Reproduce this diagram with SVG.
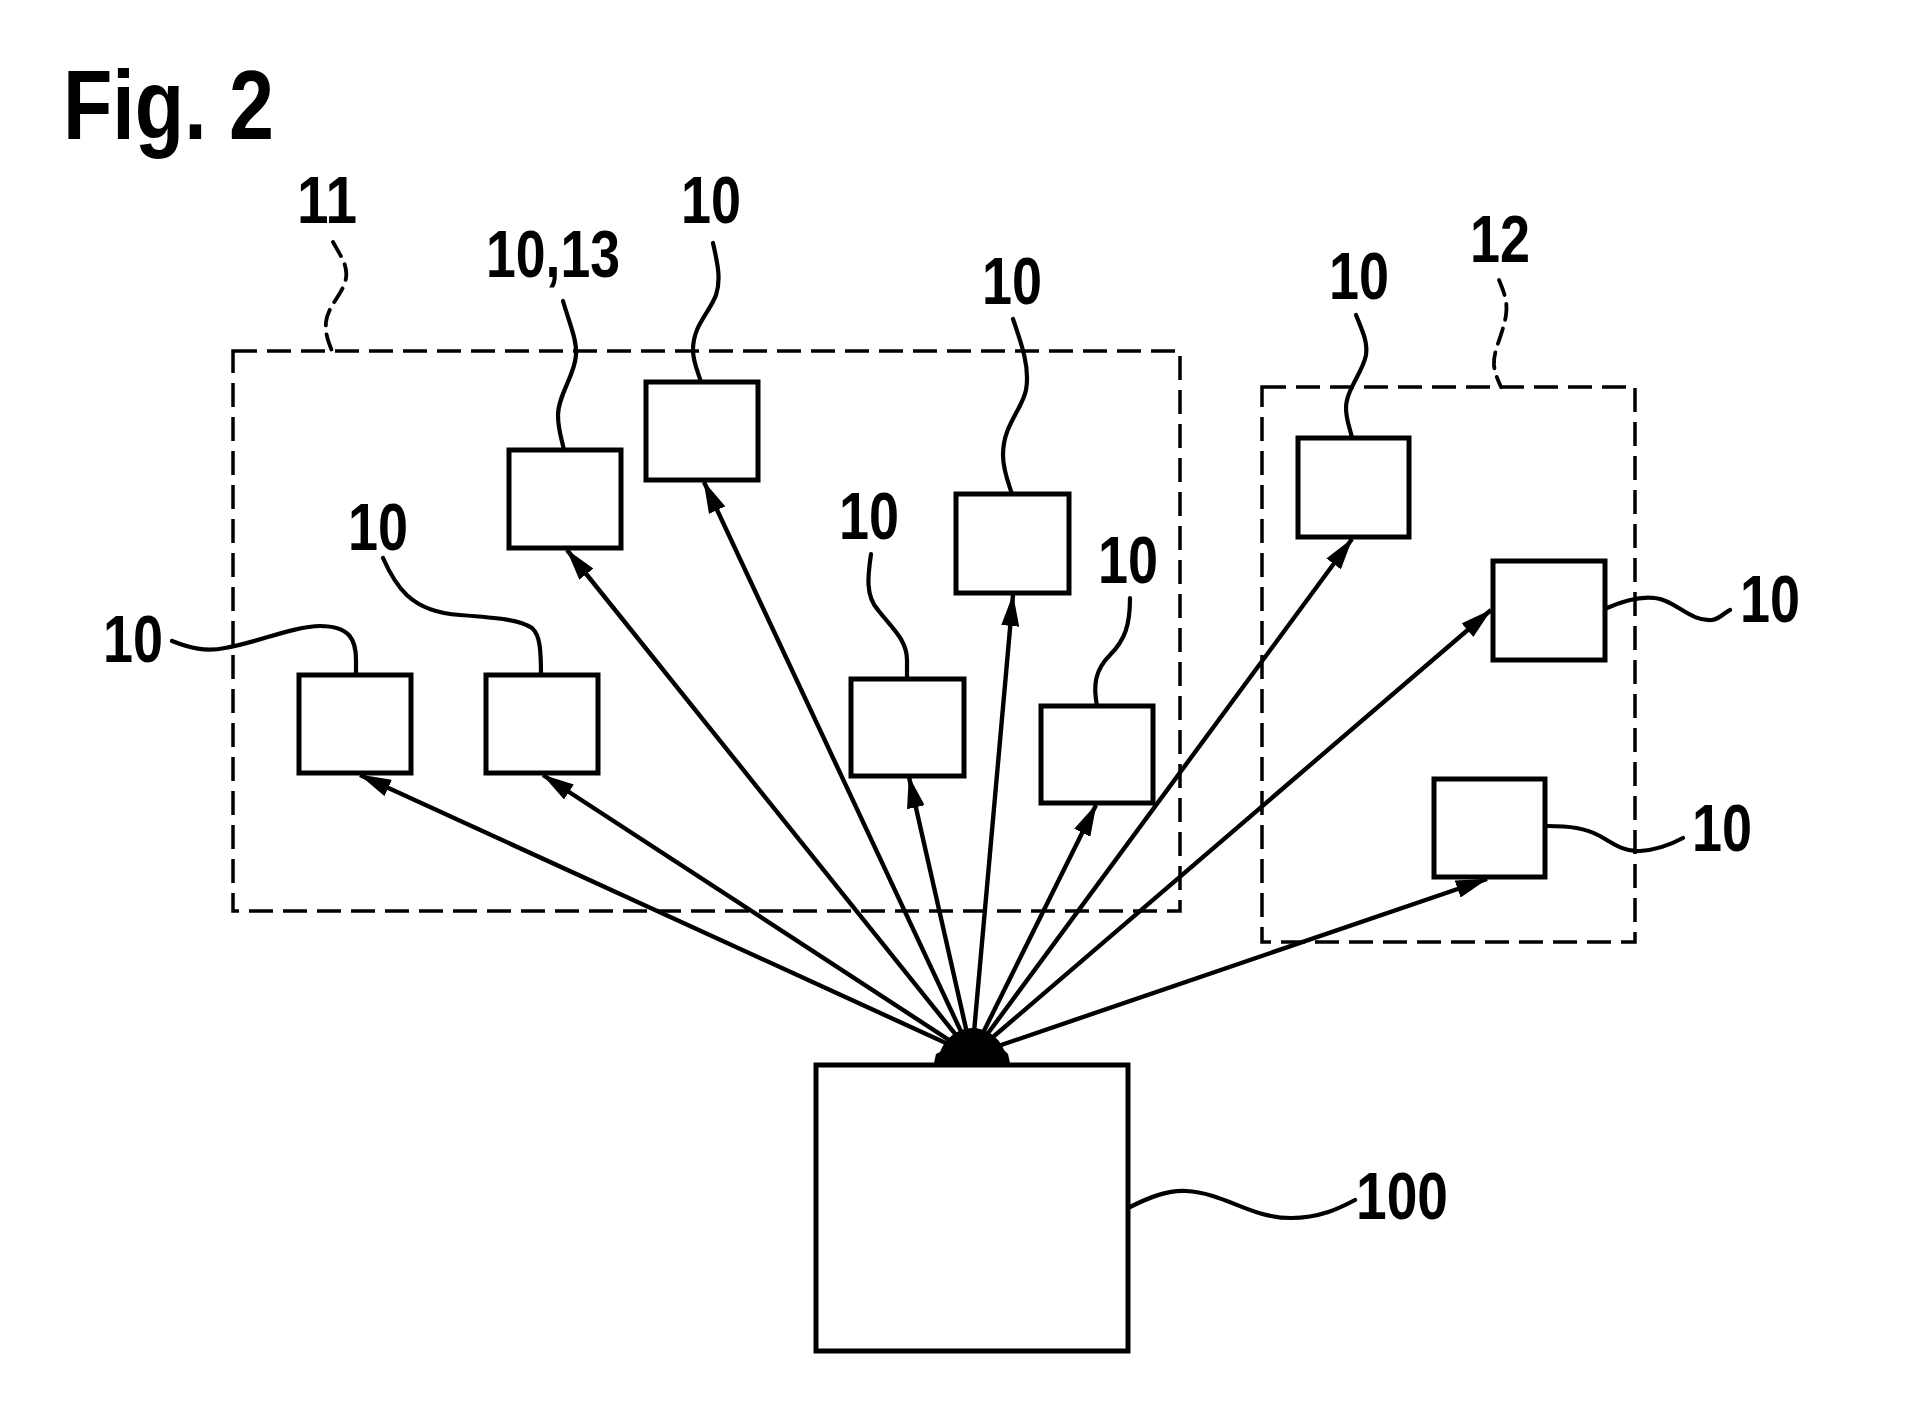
<svg xmlns="http://www.w3.org/2000/svg" width="1913" height="1413" viewBox="0 0 1913 1413">
<style>
.bg{fill:#fff}
.box{fill:#fff;stroke:#000;stroke-width:5}
.grp{fill:none;stroke:#000;stroke-width:3.5;stroke-dasharray:24 10}
.lead{fill:none;stroke:#000;stroke-width:4.2;stroke-linecap:round}
.dlead{fill:none;stroke:#000;stroke-width:3.8;stroke-dasharray:16 9;stroke-linecap:round}
.con{fill:none;stroke:#000;stroke-width:4.4;marker-end:url(#ah)}
.lbl{font-family:"Liberation Sans",Arial,sans-serif;font-weight:bold;font-size:66px;fill:#000}
.fig{font-family:"Liberation Sans",Arial,sans-serif;font-weight:bold;font-size:99px;fill:#000}
</style>
<defs>
<marker id="ah" markerUnits="userSpaceOnUse" markerWidth="32" markerHeight="18" viewBox="0 0 32 18" refX="31" refY="9" orient="auto">
<path d="M0,0 L32,9 L0,18 Z" fill="#000"/>
</marker>
</defs>
<rect class="bg" x="0" y="0" width="1913" height="1413"/>
<text class="fig" x="63" y="139" textLength="211" lengthAdjust="spacingAndGlyphs">Fig. 2</text>

<g id="group11">
<rect class="grp" x="233" y="351" width="947" height="560"/>
<path class="dlead" d="M333,242 C340,255 348,265 346,278 C344,293 328,305 326,322 C325,335 329,343 332,351"/>
<text class="lbl" x="297" y="223" textLength="60" lengthAdjust="spacingAndGlyphs">11</text>
</g>
<g id="group12">
<rect class="grp" x="1262" y="387" width="373" height="555"/>
<path class="dlead" d="M1499,280 C1504,292 1508,302 1506,315 C1503,335 1493,350 1494,365 C1495,375 1499,382 1501,387"/>
<text class="lbl" x="1470" y="262" textLength="60" lengthAdjust="spacingAndGlyphs">12</text>
</g>

<g id="connectors">
<line class="con" x1="972" y1="1055" x2="360" y2="775"/>
<line class="con" x1="972" y1="1055" x2="543" y2="775"/>
<line class="con" x1="972" y1="1055" x2="567" y2="550"/>
<line class="con" x1="972" y1="1055" x2="704" y2="482"/>
<line class="con" x1="972" y1="1055" x2="909" y2="777"/>
<line class="con" x1="972" y1="1055" x2="1013" y2="595"/>
<line class="con" x1="972" y1="1055" x2="1096" y2="805"/>
<line class="con" x1="972" y1="1055" x2="1352" y2="539"/>
<line class="con" x1="972" y1="1055" x2="1491" y2="610"/>
<line class="con" x1="972" y1="1055" x2="1487" y2="879"/>
<path d="M934,1063 L936,1054 L940,1052 C946,1036 960,1028 972,1028 C985,1028 999,1036 1004,1050 L1008,1054 L1010,1063 Z" fill="#000"/>
</g>

<g id="nodeA">
<rect class="box" x="299" y="675" width="112" height="98"/>
<path class="lead" d="M172,641 C190,648 205,652 225,648 C255,643 295,626 320,626 C350,626 356,640 356,660 L356,675"/>
<text class="lbl" x="103" y="662" textLength="60" lengthAdjust="spacingAndGlyphs">10</text>
</g>
<g id="nodeB">
<rect class="box" x="486" y="675" width="112" height="98"/>
<path class="lead" d="M383,558 C395,585 410,612 460,615 C500,618 520,620 532,628 C540,635 541,650 541,675"/>
<text class="lbl" x="348" y="550" textLength="60" lengthAdjust="spacingAndGlyphs">10</text>
</g>
<g id="nodeC">
<rect class="box" x="509" y="450" width="112" height="98"/>
<path class="lead" d="M563,301 C570,325 577,340 576,355 C575,375 558,395 558,415 C558,430 562,440 564,450"/>
<text class="lbl" x="486" y="277" textLength="134" lengthAdjust="spacingAndGlyphs">10,13</text>
</g>
<g id="nodeD">
<rect class="box" x="646" y="382" width="112" height="98"/>
<path class="lead" d="M713,243 C718,265 721,280 716,295 C710,312 693,325 693,350 C693,362 698,372 701,382"/>
<text class="lbl" x="681" y="223" textLength="60" lengthAdjust="spacingAndGlyphs">10</text>
</g>
<g id="nodeE">
<rect class="box" x="851" y="679" width="113" height="97"/>
<path class="lead" d="M871,554 C868,575 865,595 878,610 C892,628 907,640 907,660 L907,679"/>
<text class="lbl" x="839" y="539" textLength="60" lengthAdjust="spacingAndGlyphs">10</text>
</g>
<g id="nodeF">
<rect class="box" x="956" y="494" width="113" height="99"/>
<path class="lead" d="M1013,319 C1022,345 1030,368 1026,390 C1022,410 1003,425 1003,455 C1003,470 1008,482 1012,494"/>
<text class="lbl" x="982" y="304" textLength="60" lengthAdjust="spacingAndGlyphs">10</text>
</g>
<g id="nodeG">
<rect class="box" x="1041" y="706" width="112" height="97"/>
<path class="lead" d="M1130,598 C1130,625 1125,640 1110,655 C1095,670 1093,685 1097,706"/>
<text class="lbl" x="1098" y="583" textLength="60" lengthAdjust="spacingAndGlyphs">10</text>
</g>
<g id="nodeH">
<rect class="box" x="1298" y="438" width="111" height="99"/>
<path class="lead" d="M1356,315 C1362,330 1368,342 1366,355 C1363,372 1346,390 1346,408 C1346,420 1350,428 1352,438"/>
<text class="lbl" x="1329" y="299" textLength="60" lengthAdjust="spacingAndGlyphs">10</text>
</g>
<g id="nodeI">
<rect class="box" x="1493" y="561" width="112" height="99"/>
<path class="lead" d="M1607,608 C1625,600 1640,596 1655,598 C1675,600 1690,622 1712,620 C1720,619 1725,612 1730,610"/>
<text class="lbl" x="1740" y="622" textLength="60" lengthAdjust="spacingAndGlyphs">10</text>
</g>
<g id="nodeJ">
<rect class="box" x="1434" y="779" width="111" height="98"/>
<path class="lead" d="M1547,826 C1570,826 1585,828 1600,836 C1615,845 1625,852 1640,851 C1655,850 1670,845 1683,838"/>
<text class="lbl" x="1692" y="851" textLength="60" lengthAdjust="spacingAndGlyphs">10</text>
</g>
<g id="node100">
<rect class="box" x="816" y="1065" width="312" height="286"/>
<path class="lead" d="M1130,1207 C1150,1197 1168,1190 1186,1191 C1225,1193 1250,1218 1291,1218 C1320,1218 1340,1208 1355,1200"/>
<text class="lbl" x="1356" y="1219" textLength="92" lengthAdjust="spacingAndGlyphs">100</text>
</g>
</svg>
